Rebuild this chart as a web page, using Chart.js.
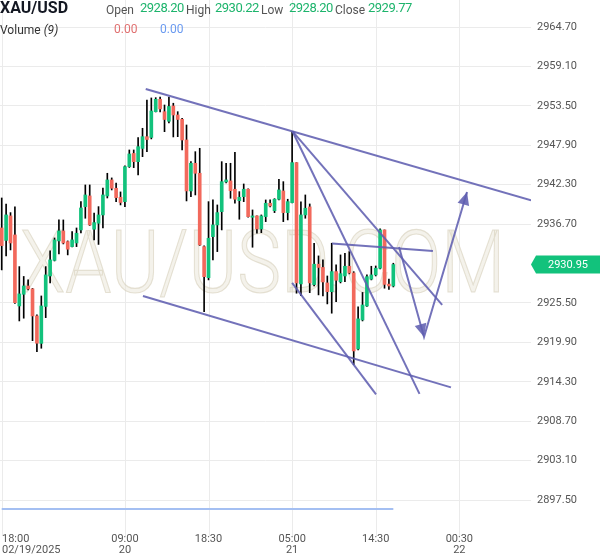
<!DOCTYPE html>
<html>
<head>
<meta charset="utf-8">
<script src="https://cdn.jsdelivr.net/npm/chart.js@4.4.1/dist/chart.umd.min.js"></script>
<style>
html, body { margin: 0; padding: 0; background: #fff; overflow: hidden; }
#wrap { position: relative; width: 600px; height: 558px; font-family: Roboto, sans-serif; }
#c { position: absolute; left: 0; top: 0; }
.t { position: absolute; white-space: nowrap; line-height: 1; }
</style>
</head>
<body>
<div id="wrap">
    <canvas id="c" width="600" height="558"></canvas>
    <div id="hdr"></div>
</div>
<script>
// ===== XAU/USD candles + hand-drawn trend lines =====

const SYMBOL = 'XAU/USD';
const WATERMARK = 'XAU/USD.COM';
const HDR_LABELS = ['Open', 'High', 'Low', 'Close'];
const HDR_VALUES = ['2928.20', '2930.22', '2928.20', '2929.77'];
const VOL_TITLE = 'Volume';
const VOL_PERIOD = '(9)';
const VOL_VALUES = ['0.00', '0.00'];

// bar index → time label (two lines)
const X_TICKS = [0, 28, 47, 66, 85, 104];
const X_LABELS = [['18:00', '02/19/2025'], ['09:00', '20'], ['18:30', ''], ['05:00', '21'], ['14:30', ''], ['00:30', '22']];
const Y_TICKS = [2897.5, 2903.1, 2908.7, 2914.3, 2919.9, 2925.5, 2936.7, 2942.3, 2947.9, 2953.5, 2959.1, 2964.7];

const OPEN = [
    2936.15, 2934.38, 2937.86, 2935.16, 2925.07, 2926.73, 2927.91, 2927.49, 2923.65, 2919.75,
    2925.00, 2929.33, 2931.54, 2934.31, 2935.73, 2934.21, 2933.50, 2934.02, 2935.87, 2939.18,
    2940.70, 2935.97, 2936.82, 2938.00, 2940.70, 2942.97, 2941.79, 2940.51, 2939.89, 2944.86,
    2946.74, 2945.57, 2947.45, 2949.12, 2949.01, 2952.67, 2954.43, 2952.67, 2951.31, 2953.48,
    2952.20, 2951.59, 2948.65, 2941.41, 2945.34, 2943.92, 2933.50, 2929.09, 2934.92, 2936.58,
    2938.47, 2942.69, 2942.83, 2941.65, 2940.03, 2940.60, 2941.65, 2937.67, 2937.86, 2936.01,
    2937.76, 2939.66, 2938.61, 2940.23, 2941.41, 2938.33, 2939.75, 2945.43, 2928.20, 2938.00,
    2939.14, 2928.10, 2931.00, 2930.54, 2928.34, 2927.10, 2929.95, 2928.52, 2929.33, 2930.71,
    2929.76, 2918.96, 2923.09, 2925.07, 2928.87, 2929.48, 2930.43, 2935.87, 2928.17, 2927.91
];
const HIGH = [
    2940.41, 2939.56, 2938.33, 2939.14, 2930.66, 2929.26, 2928.77, 2927.56, 2923.80, 2926.49,
    2930.66, 2932.89, 2934.73, 2937.29, 2937.29, 2934.31, 2935.63, 2936.15, 2939.89, 2942.26,
    2942.26, 2938.28, 2939.18, 2941.83, 2943.92, 2943.26, 2942.54, 2941.27, 2944.96, 2947.23,
    2947.23, 2948.98, 2950.31, 2954.33, 2954.62, 2954.66, 2954.76, 2953.62, 2954.76, 2953.87,
    2952.67, 2951.71, 2950.78, 2945.57, 2946.99, 2947.47, 2933.60, 2939.89, 2940.13, 2939.42,
    2945.57, 2945.34, 2945.34, 2946.91, 2941.31, 2942.40, 2941.70, 2938.71, 2937.86, 2938.00,
    2940.13, 2940.13, 2940.31, 2943.07, 2942.73, 2940.23, 2949.83, 2945.43, 2939.85, 2940.84,
    2939.56, 2933.98, 2932.18, 2931.61, 2929.33, 2933.98, 2930.90, 2932.32, 2932.56, 2932.79,
    2929.94, 2924.93, 2926.99, 2929.48, 2930.71, 2930.75, 2936.01, 2935.87, 2928.88, 2931.14
];
const LOW = [
    2930.19, 2932.18, 2933.03, 2925.43, 2922.94, 2923.33, 2927.35, 2920.14, 2918.58, 2919.06,
    2923.41, 2928.34, 2931.46, 2932.46, 2933.88, 2932.32, 2933.45, 2933.50, 2935.44, 2937.53,
    2936.51, 2934.45, 2933.81, 2936.15, 2940.41, 2941.55, 2939.89, 2939.42, 2939.18, 2944.75,
    2944.72, 2943.68, 2946.28, 2946.99, 2948.80, 2952.63, 2952.63, 2949.83, 2951.07, 2949.08,
    2949.12, 2947.23, 2939.99, 2940.60, 2940.84, 2933.67, 2924.26, 2928.77, 2931.61, 2932.79,
    2935.87, 2942.54, 2940.37, 2939.66, 2937.39, 2939.89, 2937.70, 2933.41, 2935.40, 2935.48,
    2937.05, 2939.14, 2938.33, 2940.13, 2937.05, 2937.29, 2939.70, 2926.88, 2926.54, 2937.53,
    2926.96, 2927.91, 2926.64, 2926.49, 2925.36, 2924.04, 2925.68, 2928.34, 2928.52, 2929.62,
    2916.73, 2918.82, 2922.94, 2925.00, 2928.77, 2929.33, 2930.33, 2927.59, 2927.42, 2927.77
];
const CLOSE = [
    2933.64, 2938.00, 2934.02, 2925.54, 2926.78, 2927.91, 2927.49, 2923.65, 2919.77, 2925.07,
    2929.48, 2931.61, 2934.45, 2935.73, 2934.02, 2933.13, 2934.45, 2935.40, 2938.99, 2940.84,
    2936.58, 2936.91, 2938.00, 2940.84, 2942.97, 2941.79, 2940.46, 2939.77, 2944.86, 2946.66,
    2945.57, 2947.70, 2949.12, 2948.72, 2952.77, 2954.43, 2953.06, 2951.56, 2953.41, 2952.20,
    2951.56, 2948.65, 2941.41, 2945.34, 2943.92, 2933.74, 2929.23, 2934.69, 2936.58, 2938.33,
    2942.73, 2942.97, 2941.45, 2940.23, 2940.51, 2941.65, 2937.76, 2937.86, 2936.01, 2937.86,
    2939.66, 2939.28, 2940.23, 2941.55, 2938.33, 2939.89, 2945.43, 2928.34, 2938.00, 2938.95,
    2928.34, 2931.00, 2930.54, 2928.48, 2927.10, 2929.95, 2928.72, 2929.66, 2930.71, 2929.76,
    2918.68, 2923.23, 2925.21, 2929.23, 2929.48, 2930.43, 2935.87, 2928.13, 2927.91, 2930.95
];
const VOLUME = OPEN.map(() => 0);

// drawings: [bar index, price] end points
const UPPER_CHANNEL = [[32.73, 2955.90], [120.3, 2940.07]];
const LOWER_CHANNEL = [[32.1, 2926.49], [102.1, 2913.50]];
const FAN_1 = [[66.1, 2949.86], [100.1, 2925.21]];
const FAN_2 = [[66.1, 2949.86], [94.95, 2912.57]];
const FAN_3 = [[66.0, 2928.34], [85.07, 2912.50]];
const FLAT_LINE = [[75.07, 2933.95], [98.0, 2932.89]];
const ARROW_PATH = [[90.3, 2933.45], [95.98, 2920.67], [105.75, 2941.27]];

const UP = '#12c27c', DOWN = '#f2695c', DRAW = 'rgba(96,94,176,0.88)';
const GRID = '#ebebeb', AXIS_TXT = '#555';

// ---- header (real text) ----
function buildHeader() {
    const hdr = document.getElementById('hdr');
    const labelX = [106, 186, 261, 335];
    const valueX = [140, 215, 289, 368];
    let html = `<div class="t" style="left:0;top:0;font-size:16px;font-weight:700;color:#131722">${SYMBOL}</div>`;
    HDR_LABELS.forEach((l, i) => {
        html += `<div class="t" style="left:${labelX[i]}px;top:4px;font-size:12px;color:#555">${l}</div>`;
        html += `<div class="t" style="left:${valueX[i]}px;top:1px;font-size:13px;letter-spacing:-0.5px;color:#1db46c">${HDR_VALUES[i]}</div>`;
    });
    html += `<div class="t" style="left:0;top:24px;font-size:12px;color:#333">${VOL_TITLE} <i>${VOL_PERIOD}</i></div>`;
    html += `<div class="t" style="left:114px;top:23px;font-size:12px;color:#e07070">${VOL_VALUES[0]}</div>`;
    html += `<div class="t" style="left:160px;top:23px;font-size:12px;color:#6a9af0">${VOL_VALUES[1]}</div>`;
    hdr.innerHTML = html;
}
buildHeader();

// ---- plugins ----
const background = {
    id: 'background',
    beforeDatasetsDraw(chart) {
        const c = chart.ctx;
        const { top, bottom } = chart.chartArea;
        // vertical time grid
        c.save();
        c.strokeStyle = GRID;
        c.lineWidth = 1;
        X_TICKS.forEach(v => {
            const x = Math.round(chart.scales.x.getPixelForValue(v)) + 0.5;
            c.beginPath();
            c.moveTo(x, top);
            c.lineTo(x, bottom + 6);
            c.stroke();
        });
        // watermark
        c.font = '300 88px Roboto';
        const w = c.measureText(WATERMARK).width;
        c.translate(20, 292);
        c.scale(485 / w, 1);
        c.fillStyle = 'rgba(234,229,216,0.5)';
        c.strokeStyle = 'rgba(212,204,182,0.55)';
        c.lineWidth = 1.2;
        c.fillText(WATERMARK, 0, 0);
        c.strokeText(WATERMARK, 0, 0);
        c.restore();
    }
};

const arrowHeads = {
    id: 'arrowHeads',
    afterDatasetsDraw(chart) {
        const dsIdx = chart.data.datasets.findIndex(d => d.label === 'arrow');
        const pts = chart.getDatasetMeta(dsIdx).data;
        const c = chart.ctx;
        c.save();
        c.fillStyle = DRAW;
        [[0, 1], [1, 2]].forEach(([a, b]) => {
            const p0 = pts[a], p1 = pts[b];
            const ang = Math.atan2(p1.y - p0.y, p1.x - p0.x);
            const L = 13, H = 6;
            const cs = Math.cos(ang), sn = Math.sin(ang);
            c.beginPath();
            c.moveTo(p1.x, p1.y);
            c.lineTo(p1.x - L * cs + H * sn, p1.y - L * sn - H * cs);
            c.lineTo(p1.x - L * cs - H * sn, p1.y - L * sn + H * cs);
            c.closePath();
            c.fill();
        });
        c.restore();
    }
};

const axisExtras = {
    id: 'axisExtras',
    afterDraw(chart) {
        const c = chart.ctx;
        const xs = chart.scales.x, ys = chart.scales.y;
        // time labels
        c.save();
        c.font = '11px Roboto';
        c.fillStyle = AXIS_TXT;
        c.textBaseline = 'middle';
        X_TICKS.forEach((v, i) => {
            const px = xs.getPixelForValue(v);
            c.textAlign = i === 0 ? 'left' : 'center';
            const x = i === 0 ? 2 : px;
            c.fillText(X_LABELS[i][0], x, 539);
            if (X_LABELS[i][1]) c.fillText(X_LABELS[i][1], x, 550);
        });
        // last price tag
        const last = CLOSE[CLOSE.length - 1];
        const y = ys.getPixelForValue(last);
        const left = chart.chartArea.right;
        c.fillStyle = UP;
        c.beginPath();
        c.moveTo(left, y);
        c.lineTo(left + 5, y - 9);
        c.lineTo(600, y - 9);
        c.lineTo(600, y + 9);
        c.lineTo(left + 5, y + 9);
        c.closePath();
        c.fill();
        c.fillStyle = '#fff';
        c.textAlign = 'center';
        c.fillText(last.toFixed(2), 568, y + 0.5);
        c.restore();
    }
};

// ---- datasets ----
const idx = OPEN.map((_, i) => i);
const toXY = seg => seg.map(p => ({ x: p[0], y: p[1] }));
const drawLine = (seg, label) => ({
    type: 'line', label, data: toXY(seg), borderColor: DRAW, borderWidth: 2,
    pointRadius: 0, fill: false, order: -1, tension: 0
});

const datasets = [
    {
        label: 'body', data: idx.map(i => ({ x: i, y: [OPEN[i], CLOSE[i]] })),
        backgroundColor: idx.map(i => CLOSE[i] >= OPEN[i] ? UP : DOWN),
        barThickness: 3, minBarLength: 1, grouped: false, order: 0
    },
    {
        label: 'wick', data: idx.map(i => ({ x: i, y: [LOW[i], HIGH[i]] })),
        backgroundColor: '#000', barThickness: 1, grouped: false, order: 1
    },
    {
        type: 'line', label: 'volume', yAxisID: 'yv', data: idx.map(i => ({ x: i, y: VOLUME[i] })),
        borderColor: '#a4bff2', borderWidth: 2, pointRadius: 0, fill: false, order: 2
    },
    drawLine(UPPER_CHANNEL, 'upper'),
    drawLine(LOWER_CHANNEL, 'lower'),
    drawLine(FAN_1, 'fan1'),
    drawLine(FAN_2, 'fan2'),
    drawLine(FAN_3, 'fan3'),
    drawLine(FLAT_LINE, 'flat'),
    drawLine(ARROW_PATH, 'arrow')
];

new Chart(document.getElementById('c').getContext('2d'), {
    type: 'bar',
    data: { datasets },
    plugins: [background, arrowHeads, axisExtras],
    options: {
        responsive: false,
        maintainAspectRatio: false,
        animation: false,
        devicePixelRatio: 1,
        layout: { padding: 0 },
        plugins: { legend: { display: false }, tooltip: { enabled: false } },
        scales: {
            x: {
                type: 'linear', min: -0.39, max: 120.29, offset: false,
                afterBuildTicks: s => { s.ticks = X_TICKS.map(v => ({ value: v })); },
                afterFit: s => { s.height = 28; s.paddingLeft = 0; s.paddingRight = 0; },
                grid: { display: false },
                border: { display: false },
                ticks: { display: false }
            },
            y: {
                position: 'right', min: 2893.24, max: 2968.536,
                afterBuildTicks: s => { s.ticks = Y_TICKS.map(v => ({ value: v })); },
                afterFit: s => { s.width = 69; s.paddingTop = 0; s.paddingBottom = 0; },
                grid: { color: GRID, drawTicks: false },
                border: { display: false },
                ticks: {
                    padding: 6, color: AXIS_TXT, font: { size: 11, family: 'Roboto' },
                    callback: v => Number(v).toFixed(2)
                }
            },
            yv: { display: false, min: -1, max: 24.2 }
        }
    }
});
</script>
</body>
</html>
